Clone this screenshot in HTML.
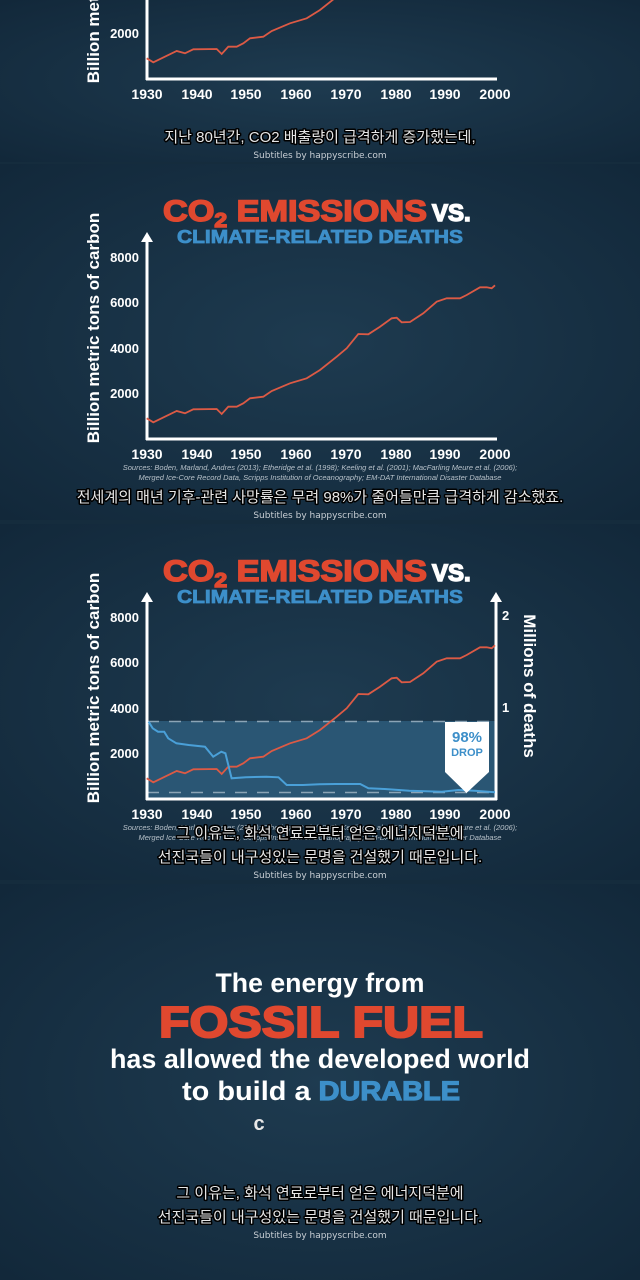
<!DOCTYPE html>
<html><head><meta charset="utf-8"><style>
html,body{margin:0;padding:0;background:#152c3d;}
svg{display:block}
.sub{font-family:"Liberation Sans","Noto Sans CJK KR",sans-serif;font-size:15px;fill:#e6e6e6;stroke:#000;stroke-width:3px;paint-order:stroke;stroke-linejoin:round;text-anchor:middle}
.hs{font-family:"DejaVu Sans",sans-serif;font-size:9px;fill:#c8ced4;text-anchor:middle}
.yr{font-family:"Liberation Sans",sans-serif;font-weight:bold;font-size:14px;fill:#fff;text-anchor:middle}
.tk{font-family:"Liberation Sans",sans-serif;font-weight:bold;font-size:13px;fill:#fff;text-anchor:end}
.lab{font-family:"Liberation Sans",sans-serif;font-weight:bold;font-size:17px;fill:#fff;text-anchor:middle}
.src{font-family:"Liberation Sans",sans-serif;font-style:italic;font-size:7.5px;fill:#b8c2ca;text-anchor:middle}
.t1{font-family:"Liberation Sans",sans-serif;font-weight:bold;font-size:30px;fill:#e0482f;stroke:#e0482f;stroke-width:1.5px}
.t2{font-family:"Liberation Sans",sans-serif;font-weight:bold;font-size:18px;fill:#3d8fc9;stroke:#3d8fc9;stroke-width:0.8px}
.big{font-family:"Liberation Sans",sans-serif;font-weight:bold;text-anchor:middle}
</style></head><body>
<svg width="640" height="1280" viewBox="0 0 640 1280" xmlns="http://www.w3.org/2000/svg">
<defs>
<radialGradient id="bg" cx="50%" cy="50%" r="70%">
<stop offset="0" stop-color="#1e3b50"/><stop offset="1" stop-color="#12283a"/></radialGradient>
<clipPath id="c1"><rect x="0" y="0" width="640" height="162"/></clipPath>
<clipPath id="c2"><rect x="0" y="162" width="640" height="360"/></clipPath>
<clipPath id="c3"><rect x="0" y="522" width="640" height="360"/></clipPath>
</defs>
<rect x="0" y="0" width="640" height="162" fill="url(#bg)"/>
<rect x="0" y="164" width="640" height="356" fill="url(#bg)"/>
<rect x="0" y="524" width="640" height="356" fill="url(#bg)"/>
<rect x="0" y="884" width="640" height="396" fill="url(#bg)"/>

<!-- Frame 1 -->
<g clip-path="url(#c1)"><g transform="translate(0,-360)">
<text class="lab" transform="translate(99,328) rotate(-90)">Billion metric tons of carbon</text>
<line x1="147" y1="238" x2="147" y2="440" stroke="#fff" stroke-width="3"/>
<line x1="146" y1="439" x2="497" y2="439" stroke="#fff" stroke-width="3"/>
<text class="tk" x="139" y="398">2000</text><text class="tk" x="139" y="353">4000</text>
<polyline fill="none" stroke="#dc5a45" stroke-width="1.8" points="146.7,418.3 153.3,422.3 176.7,411 185,413.3 193.3,409.3 216.7,409 221.7,414 228.3,406.7 236.7,406.7 243.3,403.3 250,398.3 263.3,396.7 271.7,391 290,383.3 306.7,378.3 320,370 336.7,356.7 346.7,348.3 358.3,334 368.3,334.3 380,326.7 391.7,318.3 396.7,317.7 401.7,322.3 410,322 423.3,313.3 436.7,301.7 446.7,298.3 460,298.3 466.7,295 480,287.3 486.7,287.3 491.7,288.3 495,285.3"/>
<g><text class="yr" x="147" y="459">1930</text><text class="yr" x="197" y="459">1940</text><text class="yr" x="246" y="459">1950</text><text class="yr" x="296" y="459">1960</text><text class="yr" x="346" y="459">1970</text><text class="yr" x="396" y="459">1980</text><text class="yr" x="445" y="459">1990</text><text class="yr" x="495" y="459">2000</text></g>
</g></g>
<text class="sub" x="320" y="142">지난 80년간, CO2 배출량이 급격하게 증가했는데,</text>
<text class="hs" x="320" y="158">Subtitles by happyscribe.com</text>

<!-- Frame 2 -->
<g clip-path="url(#c2)">
<text class="t1" x="163" y="221" textLength="264" lengthAdjust="spacingAndGlyphs">CO<tspan font-size="20" dy="6">2</tspan><tspan dy="-6"> EMISSIONS</tspan></text>
<text class="t1" x="432" y="221" style="fill:#fff;stroke:#fff;font-size:24px">VS.</text>
<text class="t2" x="177" y="243" textLength="286" lengthAdjust="spacingAndGlyphs">CLIMATE-RELATED DEATHS</text>
<text class="lab" transform="translate(99,328) rotate(-90)">Billion metric tons of carbon</text>
<line x1="147" y1="240" x2="147" y2="440" stroke="#fff" stroke-width="3"/>
<polygon points="141,242 147,232 153,242" fill="#fff"/>
<line x1="146" y1="439" x2="497" y2="439" stroke="#fff" stroke-width="3"/>
<text class="tk" x="139" y="262">8000</text><text class="tk" x="139" y="307">6000</text><text class="tk" x="139" y="353">4000</text><text class="tk" x="139" y="398">2000</text>
<polyline fill="none" stroke="#dc5a45" stroke-width="1.8" points="146.7,418.3 153.3,422.3 176.7,411 185,413.3 193.3,409.3 216.7,409 221.7,414 228.3,406.7 236.7,406.7 243.3,403.3 250,398.3 263.3,396.7 271.7,391 290,383.3 306.7,378.3 320,370 336.7,356.7 346.7,348.3 358.3,334 368.3,334.3 380,326.7 391.7,318.3 396.7,317.7 401.7,322.3 410,322 423.3,313.3 436.7,301.7 446.7,298.3 460,298.3 466.7,295 480,287.3 486.7,287.3 491.7,288.3 495,285.3"/>
<g><text class="yr" x="147" y="459">1930</text><text class="yr" x="197" y="459">1940</text><text class="yr" x="246" y="459">1950</text><text class="yr" x="296" y="459">1960</text><text class="yr" x="346" y="459">1970</text><text class="yr" x="396" y="459">1980</text><text class="yr" x="445" y="459">1990</text><text class="yr" x="495" y="459">2000</text></g>
<text class="src" x="320" y="470">Sources: Boden, Marland, Andres (2013); Etheridge et al. (1998); Keeling et al. (2001); MacFarling Meure et al. (2006);</text>
<text class="src" x="320" y="480">Merged Ice-Core Record Data, Scripps Institution of Oceanography; EM-DAT International Disaster Database</text>
</g>
<text class="sub" x="320" y="502">전세계의 매년 기후-관련 사망률은 무려 98%가 줄어들만큼 급격하게 감소했죠.</text>
<text class="hs" x="320" y="518">Subtitles by happyscribe.com</text>

<!-- Frame 3 -->
<g clip-path="url(#c3)">
<text class="t1" x="163" y="581" textLength="264" lengthAdjust="spacingAndGlyphs">CO<tspan font-size="20" dy="6">2</tspan><tspan dy="-6"> EMISSIONS</tspan></text>
<text class="t1" x="432" y="581" style="fill:#fff;stroke:#fff;font-size:24px">VS.</text>
<text class="t2" x="177" y="603" textLength="286" lengthAdjust="spacingAndGlyphs">CLIMATE-RELATED DEATHS</text>
<rect x="147" y="721" width="348" height="77" fill="#2a5674"/>
<line x1="147" y1="721.5" x2="495" y2="721.5" stroke="#8ba4b6" stroke-width="1.5" stroke-dasharray="12,10"/>
<line x1="147" y1="792.5" x2="495" y2="792.5" stroke="#8ba4b6" stroke-width="1.5" stroke-dasharray="12,10"/>
<text class="lab" transform="translate(99,688) rotate(-90)">Billion metric tons of carbon</text>
<line x1="147" y1="600" x2="147" y2="800" stroke="#fff" stroke-width="3"/>
<polygon points="141,602 147,592 153,602" fill="#fff"/>
<line x1="496" y1="600" x2="496" y2="800" stroke="#fff" stroke-width="3"/>
<polygon points="490,602 496,592 502,602" fill="#fff"/>
<line x1="146" y1="799" x2="497" y2="799" stroke="#fff" stroke-width="3"/>
<text class="tk" x="139" y="622">8000</text><text class="tk" x="139" y="667">6000</text><text class="tk" x="139" y="713">4000</text><text class="tk" x="139" y="758">2000</text>
<text class="tk" x="502" y="620" style="text-anchor:start">2</text>
<text class="tk" x="502" y="712" style="text-anchor:start">1</text>
<text class="lab" transform="translate(524,686) rotate(90)">Millions of deaths</text>
<polyline fill="none" stroke="#dc5a45" stroke-width="1.8" transform="translate(0,360)" points="146.7,418.3 153.3,422.3 176.7,411 185,413.3 193.3,409.3 216.7,409 221.7,414 228.3,406.7 236.7,406.7 243.3,403.3 250,398.3 263.3,396.7 271.7,391 290,383.3 306.7,378.3 320,370 336.7,356.7 346.7,348.3 358.3,334 368.3,334.3 380,326.7 391.7,318.3 396.7,317.7 401.7,322.3 410,322 423.3,313.3 436.7,301.7 446.7,298.3 460,298.3 466.7,295 480,287.3 486.7,287.3 491.7,288.3 495,285.3"/>
<polyline fill="none" stroke="#4aa0d8" stroke-width="2" points="148.6,721.7 152.7,728.3 158,731.7 164.2,731.7 168.2,738.3 176.4,743.3 188.7,745 205,746.7 213.2,756.7 221.3,751.7 225.4,753.3 231.6,778.3 245.9,777.3 266.3,776.7 278.5,777.3 286.7,785 303,785 319.4,784.3 335.7,784 360.2,784 368.4,788.3 384.7,789 409.3,790.7 441.9,791.7 458.3,790 474.6,790.7 495,792.3"/>
<polygon points="445,722 489,722 489,772 466.5,793 445,772" fill="#fff"/>
<text x="467" y="742" class="big" style="font-size:15px;fill:#3d8fc9">98%</text>
<text x="467" y="756" class="big" style="font-size:11px;fill:#3d8fc9">DROP</text>
<g><text class="yr" x="147" y="819">1930</text><text class="yr" x="197" y="819">1940</text><text class="yr" x="246" y="819">1950</text><text class="yr" x="296" y="819">1960</text><text class="yr" x="346" y="819">1970</text><text class="yr" x="396" y="819">1980</text><text class="yr" x="445" y="819">1990</text><text class="yr" x="495" y="819">2000</text></g>
<text class="src" x="320" y="830">Sources: Boden, Marland, Andres (2013); Etheridge et al. (1998); Keeling et al. (2001); MacFarling Meure et al. (2006);</text>
<text class="src" x="320" y="840">Merged Ice-Core Record Data, Scripps Institution of Oceanography; EM-DAT International Disaster Database</text>
</g>
<text class="sub" x="320" y="838">그 이유는, 화석 연료로부터 얻은 에너지덕분에</text>
<text class="sub" x="320" y="862">선진국들이 내구성있는 문명을 건설했기 때문입니다.</text>
<text class="hs" x="320" y="878">Subtitles by happyscribe.com</text>

<!-- Frame 4 -->
<text class="big" x="320" y="992" style="font-size:27px;fill:#fff" textLength="209" lengthAdjust="spacingAndGlyphs">The energy from</text>
<text class="big" x="321" y="1037" style="font-size:44px;fill:#e0482f;stroke:#e0482f;stroke-width:2px" textLength="324" lengthAdjust="spacingAndGlyphs">FOSSIL FUEL</text>
<text class="big" x="320" y="1068" style="font-size:27px;fill:#fff" textLength="420" lengthAdjust="spacingAndGlyphs">has allowed the developed world</text>
<text class="big" x="321" y="1100" style="font-size:27px;fill:#fff" textLength="278" lengthAdjust="spacingAndGlyphs">to build a <tspan fill="#3d8fc9" stroke="#3d8fc9" stroke-width="1.2">DURABLE</tspan></text>
<text class="big" x="259" y="1130" style="font-size:20px;fill:#e8e8e8">c</text>
<text class="sub" x="320" y="1198">그 이유는, 화석 연료로부터 얻은 에너지덕분에</text>
<text class="sub" x="320" y="1222">선진국들이 내구성있는 문명을 건설했기 때문입니다.</text>
<text class="hs" x="320" y="1238">Subtitles by happyscribe.com</text>
</svg>
</body></html>
